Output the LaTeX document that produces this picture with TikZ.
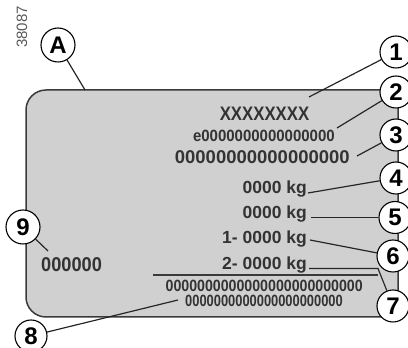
\documentclass[tikz,border=0pt]{standalone}
\usepackage{fontspec}
\setmainfont{Liberation Sans}
\definecolor{plategray}{HTML}{D0D0D0}
\definecolor{inkgray}{HTML}{333333}
\definecolor{edgegray}{HTML}{3A3A3A}
\newcommand{\fsz}[1]{\fontsize{#1}{#1}\selectfont}
\newcommand{\hsq}[2]{\scalebox{#1}[1]{#2}}
\begin{document}
\begin{tikzpicture}[x=1pt,y=1pt,
  callout/.style={circle, draw=black, fill=white, line width=1.1pt, minimum size=32pt, inner sep=0pt, font=\bfseries\fsz{24}},
  leader/.style={line width=1.2pt, draw=black!85},
  platetext/.style={text=inkgray, inner sep=0pt}]
\useasboundingbox (0,0) rectangle (408,348);
% plate
\draw[fill=plategray, draw=edgegray, line width=1.5pt]
  (398,258) -- (46,258) arc[start angle=90,end angle=180,radius=20]
  -- (26,51) arc[start angle=180,end angle=270,radius=20] -- (398,31) -- cycle;
\draw[draw=edgegray, line width=1.5pt] (153,73) -- (378,73);
% reference number
\node[rotate=90, text=black!65, inner sep=0pt, font=\fsz{15}] (ref) at (22,321) {38087};
% texts
\node[platetext, anchor=base, font=\bfseries\fsz{19.5}] (t1) at (264.5,227) {\hsq{0.86}{XXXXXXXX}};
\node[platetext, anchor=base east, font=\bfseries\fsz{16.3}] (t2) at (335,206) {\hsq{0.92}{e0000000000000000}};
\node[platetext, anchor=base east, font=\bfseries\fsz{18.5}] (t3) at (350,184.5) {00000000000000000};
\node[platetext, anchor=base east, font=\bfseries\fsz{17.5}] (t4) at (307,154.7) {0000 kg};
\node[platetext, anchor=base east, font=\bfseries\fsz{17.5}] (t5) at (307,129.7) {0000 kg};
\node[platetext, anchor=base east, font=\bfseries\fsz{17.5}] (t6) at (307,104.7) {1- 0000 kg};
\node[platetext, anchor=base east, font=\bfseries\fsz{17.5}] (t7) at (307,78.5) {2- 0000 kg};
\node[platetext, anchor=base east, font=\bfseries\fsz{16.3}] (t8a) at (363,56) {\hsq{0.87}{0000000000000000000000000}};
\node[platetext, anchor=base east, font=\bfseries\fsz{16.3}] (t8b) at (343,41) {\hsq{0.79}{0000000000000000000000}};
\node[platetext, anchor=base west, font=\bfseries\fsz{20}] (t9) at (41,76.5) {\hsq{0.91}{000000}};
% leader end points
\coordinate (pA) at (85,258);
\coordinate (p1) at (309,251);
\coordinate (p2) at (337,220);
\coordinate (p3) at (357,192);
\coordinate (p4) at (308,155);
\coordinate (p5) at (311,130.5);
\coordinate (p6) at (310,108);
\coordinate (p7) at (309,79.5);
\coordinate (b7) at (378,79.5);
\coordinate (p9) at (48,97);
\coordinate (p8) at (178,48);
% callouts
\node[callout, minimum size=34pt] (cA) at (58,303) {A};
\node[callout] (c1) at (396,296) {1};
\node[callout] (c2) at (396,256) {2};
\node[callout] (c3) at (396,213) {3};
\node[callout] (c4) at (396,170) {4};
\node[callout] (c5) at (395,130.5) {5};
\node[callout] (c6) at (393,92) {6};
\node[callout] (c7) at (393,42) {7};
\node[callout, minimum size=34pt] (c9) at (23,121) {9};
\node[callout] (c8) at (31,12) {8};
% leaders
\draw[leader] (cA) -- (pA);
\draw[leader] (c1) -- (p1);
\draw[leader] (c2) -- (p2);
\draw[leader] (c3) -- (p3);
\draw[leader] (c4) -- (p4);
\draw[leader] (c5) -- (p5);
\draw[leader] (c6) -- (p6);
\draw[leader] (c7) -- (b7) -- (p7);
\draw[leader] (c9) -- (p9);
\draw[leader] (c8) -- (p8);
\end{tikzpicture}
\end{document}
